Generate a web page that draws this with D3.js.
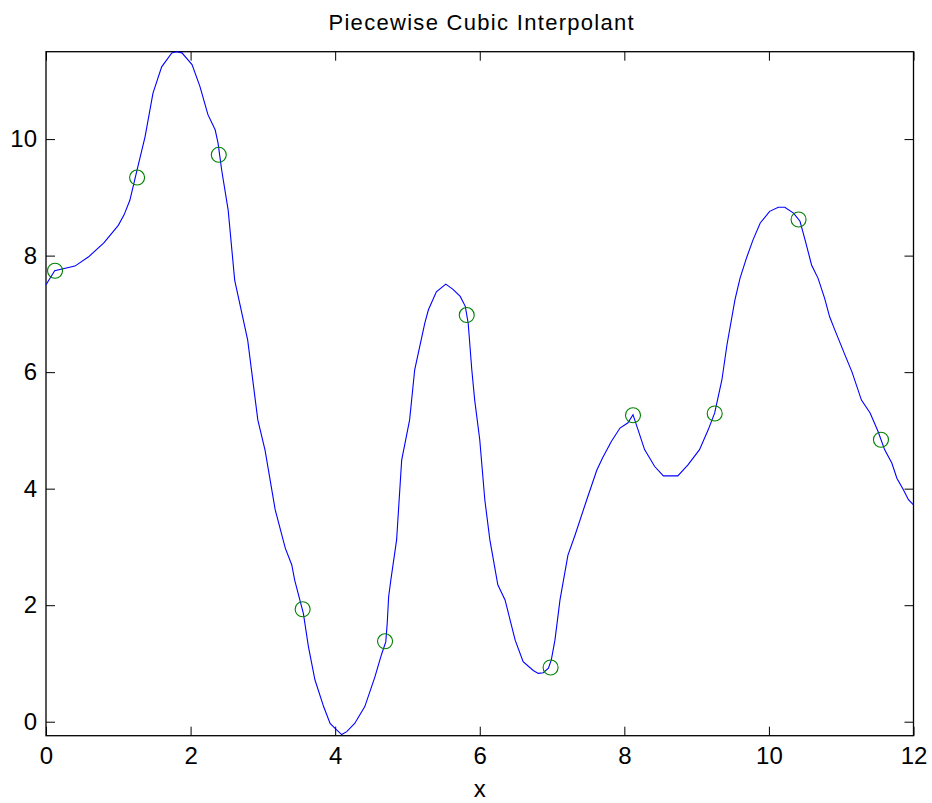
<!DOCTYPE html>
<html>
<head>
<meta charset="utf-8">
<script src="https://cdn.jsdelivr.net/npm/d3@7"></script>
<style>
  html, body { margin: 0; padding: 0; background: #fff; }
  svg { display: block; font-family: "Liberation Sans", Arial, sans-serif; }
</style>
</head>
<body>
<svg id="chart" width="932" height="803"></svg>
<script>
// Sample points (circles)
const sampleX = [0.125, 1.26, 2.39, 3.55, 4.69, 5.82, 6.98, 8.12, 9.25, 10.41, 11.55];
const sampleY = [7.74, 9.34, 9.73, 1.93, 1.38, 6.98, 0.93, 5.26, 5.29, 8.62, 4.84];

// Interpolant curve, evaluated on a fine grid
const curveX = [0, 0.12, 0.40, 0.59, 0.80, 1.00, 1.08, 1.16, 1.25, 1.37, 1.48, 1.60, 1.74, 1.81, 1.88,
  2.02, 2.13, 2.24, 2.34, 2.38, 2.43, 2.52, 2.61, 2.79, 2.93, 3.03, 3.17, 3.31, 3.40, 3.44,
  3.56, 3.63, 3.72, 3.84, 3.93, 4.02, 4.09, 4.16, 4.27, 4.41, 4.55, 4.64, 4.70, 4.72, 4.74,
  4.77, 4.85, 4.92, 5.03, 5.10, 5.24, 5.29, 5.40, 5.53, 5.63, 5.73, 5.80, 5.84, 5.89, 5.93,
  6.00, 6.07, 6.14, 6.25, 6.35, 6.49, 6.60, 6.74, 6.81, 6.88, 6.95, 6.99, 7.04, 7.11, 7.22,
  7.32, 7.48, 7.62, 7.70, 7.82, 7.94, 8.05, 8.12, 8.19, 8.28, 8.42, 8.54, 8.74, 8.88, 9.04,
  9.16, 9.25, 9.35, 9.42, 9.53, 9.60, 9.69, 9.78, 9.88, 10.01, 10.13, 10.22, 10.34, 10.43,
  10.50, 10.59, 10.68, 10.77, 10.84, 10.91, 11.05, 11.15, 11.28, 11.40, 11.51, 11.60, 11.70,
  11.77, 11.86, 11.93, 12.00];
const curveY = [7.50, 7.74, 7.82, 7.98, 8.22, 8.52, 8.70, 8.95, 9.42, 10.04, 10.79, 11.24, 11.48, 11.50, 11.48,
  11.28, 10.90, 10.42, 10.16, 9.93, 9.47, 8.78, 7.58, 6.55, 5.18, 4.66, 3.64, 2.98, 2.69, 2.43,
  1.86, 1.29, 0.72, 0.26, -0.03, -0.14, -0.22, -0.17, -0.03, 0.26, 0.77, 1.15, 1.37, 1.69, 2.15,
  2.43, 3.12, 4.49, 5.18, 6.04, 6.84, 7.07, 7.38, 7.51, 7.42, 7.30, 7.13, 6.84, 6.04, 5.52,
  4.84, 3.81, 3.12, 2.35, 2.09, 1.40, 1.03, 0.88, 0.83, 0.84, 0.92, 1.06, 1.40, 2.09, 2.86,
  3.21, 3.81, 4.32, 4.53, 4.81, 5.04, 5.13, 5.27, 5.01, 4.67, 4.38, 4.22, 4.22, 4.41, 4.67,
  5.01, 5.30, 5.87, 6.47, 7.24, 7.61, 7.96, 8.27, 8.56, 8.76, 8.83, 8.83, 8.73, 8.59,
  8.27, 7.84, 7.61, 7.27, 6.95, 6.73, 6.30, 6.00, 5.52, 5.30, 4.98, 4.67, 4.44,
  4.18, 3.98, 3.81, 3.72];

const xTicks = [0, 2, 4, 6, 8, 10, 12];
const yTicks = [0, 2, 4, 6, 8, 10];
const xDomain = [0, 12];
const yDomain = [-0.24, 11.5];
const titleText = "Piecewise Cubic Interpolant";
const xLabelText = "x";

const svg = d3.select("#chart");
const margin = { left: 46, right: 18.5, top: 51.7, bottom: 67.3 };
const W = +svg.attr("width"), H = +svg.attr("height");
const x0 = margin.left, x1 = W - margin.right;
const y0 = H - margin.bottom, y1 = margin.top;

const x = d3.scaleLinear().domain(xDomain).range([x0, x1]);
const y = d3.scaleLinear().domain(yDomain).range([y0, y1]);

const tickLen = 9;
const tickFont = 24;

// Inward ticks on all four sides of the box
const axisStyle = g => {
  g.select(".domain").remove();
  g.selectAll(".tick line").attr("stroke", "#000").attr("stroke-width", 1);
  g.selectAll(".tick text").attr("fill", "#000").attr("font-size", tickFont)
    .attr("font-family", "Liberation Sans, Arial, sans-serif");
};

svg.append("g").attr("transform", `translate(0,${y0})`)
  .call(d3.axisBottom(x).tickValues(xTicks).tickFormat(d3.format("d"))
    .tickSizeInner(-tickLen).tickSizeOuter(0).tickPadding(11.5))
  .call(axisStyle);

svg.append("g").attr("transform", `translate(0,${y1})`)
  .call(d3.axisTop(x).tickValues(xTicks).tickFormat("")
    .tickSizeInner(-tickLen).tickSizeOuter(0))
  .call(axisStyle);

svg.append("g").attr("transform", `translate(${x0},0)`)
  .call(d3.axisLeft(y).tickValues(yTicks).tickFormat(d3.format("d"))
    .tickSizeInner(-tickLen).tickSizeOuter(0).tickPadding(9))
  .call(axisStyle);

svg.append("g").attr("transform", `translate(${x1},0)`)
  .call(d3.axisRight(y).tickValues(yTicks).tickFormat("")
    .tickSizeInner(-tickLen).tickSizeOuter(0))
  .call(axisStyle);

// Axes box
svg.append("rect")
  .attr("x", x0).attr("y", y1)
  .attr("width", x1 - x0).attr("height", y0 - y1)
  .attr("fill", "none").attr("stroke", "#000").attr("stroke-width", 1.3);

// Interpolant
const pts = curveX.map((v, i) => [v, curveY[i]]);
svg.append("path")
  .datum(pts)
  .attr("fill", "none")
  .attr("stroke", "#0000ff")
  .attr("stroke-width", 1.1)
  .attr("d", d3.line().x(d => x(d[0])).y(d => y(d[1])));

// Data points
svg.append("g").selectAll("circle")
  .data(sampleX.map((v, i) => [v, sampleY[i]]))
  .join("circle")
  .attr("cx", d => x(d[0]))
  .attr("cy", d => y(d[1]))
  .attr("r", 7.5)
  .attr("fill", "none")
  .attr("stroke", "#008000")
  .attr("stroke-width", 1.1);

// Title and axis label
svg.append("text")
  .attr("x", (x0 + x1) / 2 + 2).attr("y", 30)
  .attr("text-anchor", "middle")
  .attr("font-size", 22)
  .attr("letter-spacing", 1.3)
  .attr("fill", "#000")
  .text(titleText);

svg.append("text")
  .attr("x", (x0 + x1) / 2).attr("y", 797)
  .attr("text-anchor", "middle")
  .attr("font-size", 24)
  .attr("fill", "#000")
  .text(xLabelText);
</script>
</body>
</html>
